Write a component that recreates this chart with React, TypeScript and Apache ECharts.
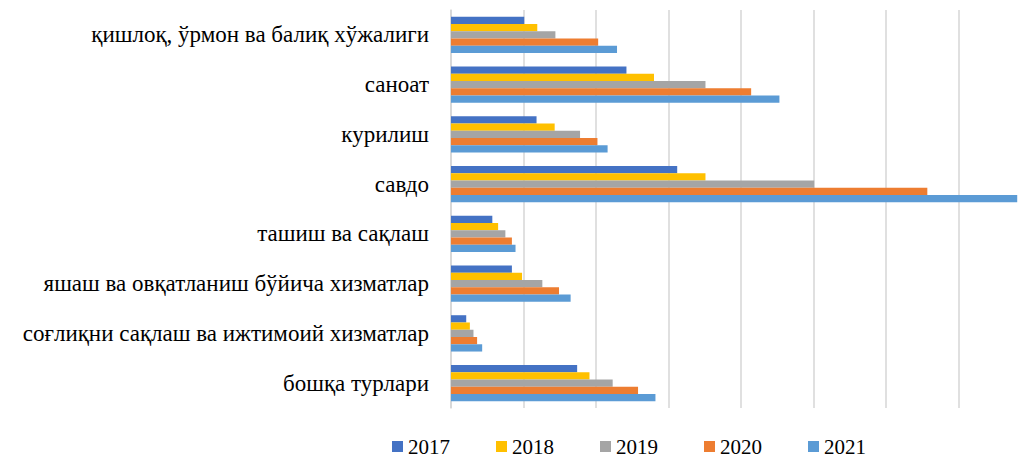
import React, { useEffect, useRef } from "react";
import * as echarts from "echarts";

const categories = [
  "қишлоқ, ўрмон ва балиқ хўжалиги",
  "саноат",
  "курилиш",
  "савдо",
  "ташиш ва сақлаш",
  "яшаш ва овқатланиш бўйича хизматлар",
  "соғлиқни сақлаш ва ижтимоий хизматлар",
  "бошқа турлари",
];

const years = ["2017", "2018", "2019", "2020", "2021"];

const v2017 = [1.01, 2.42, 1.18, 3.12, 0.57, 0.84, 0.21, 1.74];
const v2018 = [1.19, 2.8, 1.43, 3.51, 0.65, 0.98, 0.26, 1.91];
const v2019 = [1.44, 3.51, 1.78, 5.01, 0.75, 1.26, 0.31, 2.23];
const v2020 = [2.03, 4.14, 2.02, 6.57, 0.84, 1.49, 0.36, 2.58];
const v2021 = [2.29, 4.53, 2.16, 7.81, 0.89, 1.65, 0.43, 2.82];

const seriesValues = [v2017, v2018, v2019, v2020, v2021];
const colors = ["#4472C4", "#FFC000", "#A5A5A5", "#ED7D31", "#5B9BD5"];

const serif = '"Liberation Serif", "DejaVu Serif", serif';

export default function App() {
  const ref = useRef<HTMLDivElement>(null);
  useEffect(() => {
    if (!ref.current) return;
    const chart = echarts.init(ref.current, undefined, { renderer: "svg" });
    chart.setOption({
      animation: false,
      backgroundColor: "#ffffff",
      color: colors,
      grid: { left: 451, right: 0, top: 10, bottom: 51, containLabel: false },
      legend: {
        data: years,
        left: 392,
        top: 436,
        padding: 0,
        itemWidth: 11,
        itemHeight: 11,
        itemGap: 46,
        icon: "rect",
        textStyle: { fontFamily: serif, fontSize: 21, lineHeight: 18, color: "#000" },
      },
      xAxis: {
        type: "value",
        min: 0,
        max: 8,
        interval: 1,
        axisLabel: { show: false },
        axisLine: { show: false },
        axisTick: { show: false },
        splitLine: { show: true, lineStyle: { color: "#d6d6d6", width: 1.5 } },
      },
      yAxis: {
        type: "category",
        data: categories,
        inverse: true,
        axisLine: { show: true, lineStyle: { color: "#d6d6d6", width: 1.5 } },
        axisTick: { show: false },
        axisLabel: {
          margin: 22,
          fontFamily: serif,
          fontSize: 23,
          color: "#000",
        },
      },
      series: years.map((y, i) => ({
        name: y,
        type: "bar",
        data: seriesValues[i],
        barGap: "0%",
        barCategoryGap: "27%",
        itemStyle: { color: colors[i] },
      })),
    });
    return () => chart.dispose();
  }, []);
  return (
    <div
      ref={ref}
      style={{ position: "fixed", left: 0, top: 0, width: 1031, height: 459 }}
    />
  );
}
